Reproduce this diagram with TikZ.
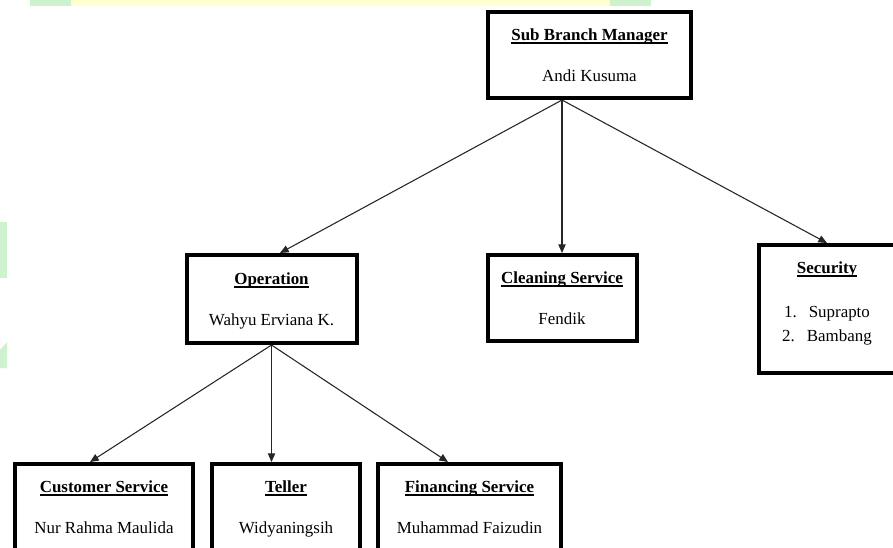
\documentclass[tikz,border=0pt]{standalone}
\usepackage{fontspec}
\setmainfont{Liberation Serif}
\usetikzlibrary{calc,arrows.meta}

\definecolor{wmgreen}{RGB}{206,242,206}
\definecolor{wmyellow}{RGB}{255,255,208}

% bold heading with a thick underline
\newcommand{\boxtitle}[1]{\leavevmode\setbox0\hbox{\textbf{#1}}\rlap{\rule[-2.6pt]{\wd0}{1.2pt}}\box0\rule[-4.5pt]{0pt}{18pt}}

\begin{document}
\begin{tikzpicture}[x=0.75pt, y=-0.75pt,
        unit/.style={draw, line width=3pt, fill=white, inner sep=0pt, align=center,
            font=\fontsize{12.7}{15}\selectfont},
        link/.style={line width=0.8pt, black!85, -{Triangle[length=6.5pt,width=5.5pt]}}]
    \useasboundingbox (0, 0) rectangle (893, 547);
    \clip (0, 0) rectangle (893, 547);
    \fill [white] (0, 0) rectangle (893, 547);

    % faint marks along the edges
    \fill [wmgreen] (30, 0) rectangle (71, 6);
    \fill [wmyellow] (71, 0) rectangle (610, 6);
    \fill [wmgreen] (610, 0) rectangle (651, 6);
    \fill [wmgreen] (0, 222) rectangle (7, 278);
    \fill [wmgreen] (0, 368) -- (0, 350) -- (7, 342) -- (7, 368) -- cycle;

    \node [unit, minimum width=152.3pt, minimum height=64.5pt]
        (mgr) at (589.5, 55) {\boxtitle{Sub Branch Manager}\\[16pt] Andi Kusuma\strut};
    \node [unit, minimum width=127.5pt, minimum height=66pt]
        (op) at (271.5, 299) {\boxtitle{Operation}\\[16pt] Wahyu Erviana K.\strut};
    \node [unit, minimum width=111.75pt, minimum height=64.5pt]
        (clean) at (562, 298) {\boxtitle{Cleaning Service}\\[16pt] Fendik\strut};
    \node [unit, minimum width=102pt, minimum height=96pt]
        (sec) at (827, 309) {\boxtitle{Security}\\[18pt] 1.\hspace{9pt}Suprapto\\[3pt]
            2.\hspace{9pt}Bambang\rule[-16pt]{0pt}{16pt}};

    \node [unit, minimum width=133.5pt, minimum height=64.5pt]
        (cs) at (104, 507) {\boxtitle{Customer Service}\\[16pt] Nur Rahma Maulida\strut};
    \node [unit, minimum width=111pt, minimum height=64.5pt]
        (teller) at (286, 507) {\boxtitle{Teller}\\[16pt] Widyaningsih\strut};
    \node [unit, minimum width=137.25pt, minimum height=64.5pt]
        (fin) at (469.5, 507) {\boxtitle{Financing Service}\\[16pt] Muhammad Faizudin\strut};

    \coordinate (hub) at ($(mgr.south) + (-27.5, 0)$);
    \draw [link] (hub) -- ($(op.north) + (8.5, 0)$);
    \draw [link] (hub) -- (clean.north);
    \draw [link] (hub) -- (sec.north);

    \draw [link] (op.south) -- ($(cs.north) + (-14, 0)$);
    \draw [link] (op.south) -- ($(teller.north) + (-14.5, 0)$);
    \draw [link] (op.south) -- ($(fin.north) + (-21.5, 0)$);
\end{tikzpicture}
\end{document}
